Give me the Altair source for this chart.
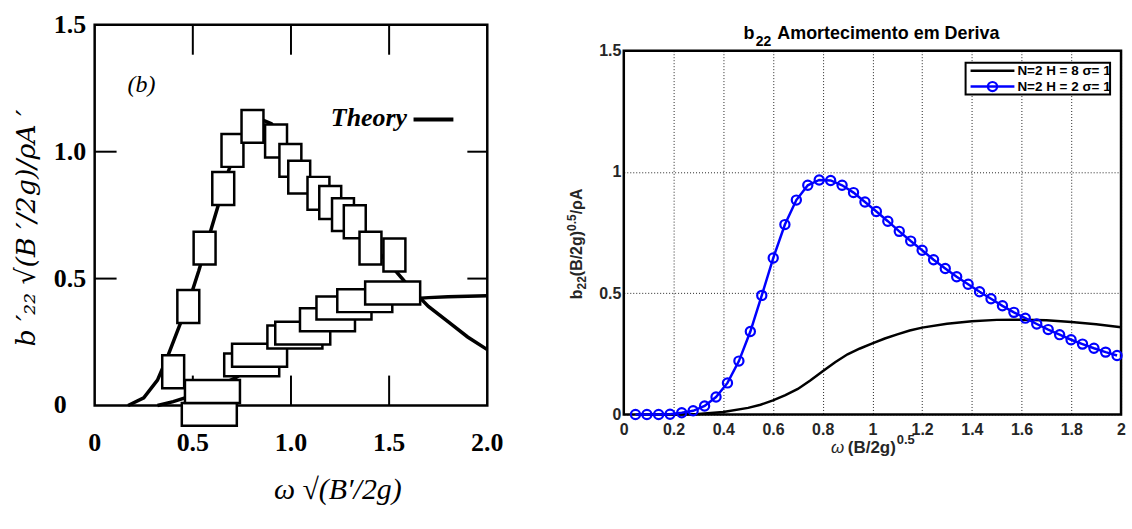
import altair as alt
import pandas as pd

SERIF = "Liberation Serif"
SANS = "Liberation Sans"

# ---------------- panel (b): measured sway damping vs. theory ----------------
theory_hi_x = [0.17, 0.25, 0.32, 0.37, 0.42, 0.48, 0.53, 0.58, 0.63, 0.68, 0.73, 0.78, 0.84, 0.90,
               0.96, 1.02, 1.10, 1.20, 1.30, 1.40, 1.50, 1.60, 1.65, 1.70, 1.80, 1.90, 2.00]
theory_hi_y = [0.00, 0.03, 0.10, 0.19, 0.29, 0.41, 0.53, 0.66, 0.79, 0.92, 1.03, 1.10, 1.13, 1.11,
               1.05, 0.97, 0.88, 0.80, 0.72, 0.64, 0.56, 0.47, 0.43, 0.39, 0.33, 0.27, 0.22]
theory_lo_x = [0.32, 0.40, 0.48, 0.56, 0.64, 0.72, 0.80, 0.88, 0.96, 1.04, 1.12, 1.20, 1.30, 1.40,
               1.50, 1.60, 1.70, 1.80, 1.90, 2.00]
theory_lo_y = [0.00, 0.015, 0.035, 0.055, 0.08, 0.11, 0.15, 0.20, 0.245, 0.285, 0.32, 0.345, 0.37,
               0.39, 0.405, 0.42, 0.425, 0.428, 0.43, 0.432]
exp_hi_x = [0.400, 0.477, 0.560, 0.655, 0.702, 0.804, 0.924, 0.997, 1.042, 1.140, 1.200, 1.265,
            1.325, 1.405, 1.527]
exp_hi_y = [0.133, 0.390, 0.620, 0.855, 1.005, 1.100, 1.042, 0.966, 0.900, 0.836, 0.800, 0.752,
            0.724, 0.620, 0.593]
exp_lo_x = [0.584, 0.600, 0.800, 0.840, 1.020, 1.060, 1.186, 1.270, 1.376, 1.518]
exp_lo_y = [-0.035, 0.055, 0.160, 0.198, 0.270, 0.285, 0.338, 0.384, 0.413, 0.443]
b_xticks = [0, 0.5, 1.0, 1.5, 2.0]
b_xlabels = ["0", "0.5", "1.0", "1.5", "2.0"]
b_yticks = [0, 0.5, 1.0, 1.5]
b_ylabels = ["0", "0.5", "1.0", "1.5"]
b_inner_x = [0.5, 1.0, 1.5]
b_inner_y = [0.5, 1.0]
b_xtitle = "\u03c9 \u221a(B\u2032/2g)"
b_ytitle = "b \u2032\u2082\u2082  \u221a(B \u2032/2g)/\u03c1A \u2032"

# ---------------- panel: b22 Amortecimento em Deriva ----------------
h8_x = [0.05, 0.20, 0.30, 0.40, 0.50, 0.55, 0.60, 0.65, 0.70, 0.75, 0.80, 0.85, 0.90, 0.95, 1.00,
        1.05, 1.10, 1.15, 1.20, 1.30, 1.40, 1.50, 1.60, 1.70, 1.80, 1.90, 2.00]
h8_y = [0.0, 0.0, 0.002, 0.01, 0.027, 0.04, 0.058, 0.08, 0.105, 0.14, 0.178, 0.215, 0.248, 0.272,
        0.293, 0.313, 0.33, 0.346, 0.358, 0.374, 0.384, 0.39, 0.391, 0.388, 0.381, 0.372, 0.36]
h2_x = [0.047, 0.093, 0.140, 0.186, 0.233, 0.279, 0.325, 0.371, 0.417, 0.463, 0.509, 0.555, 0.601,
        0.648, 0.694, 0.740, 0.786, 0.832, 0.878, 0.924, 0.970, 1.016, 1.062, 1.108, 1.154, 1.200,
        1.246, 1.293, 1.339, 1.385, 1.431, 1.477, 1.523, 1.569, 1.615, 1.661, 1.707, 1.753, 1.799,
        1.845, 1.891, 1.938, 1.984]
h2_y = [0.0, 0.0, 0.0, 0.001, 0.007, 0.015, 0.035, 0.072, 0.13, 0.22, 0.342, 0.491, 0.645, 0.783,
        0.884, 0.945, 0.967, 0.965, 0.945, 0.915, 0.876, 0.837, 0.797, 0.755, 0.715, 0.677, 0.638,
        0.602, 0.568, 0.537, 0.506, 0.477, 0.448, 0.421, 0.397, 0.373, 0.35, 0.329, 0.308, 0.29,
        0.273, 0.257, 0.243]
d_xticks = [0, 0.2, 0.4, 0.6, 0.8, 1, 1.2, 1.4, 1.6, 1.8, 2]
d_yticks = [0, 0.5, 1, 1.5]
legend_labels = ["N=2 H = 8 \u03c3= 1", "N=2 H = 2 \u03c3= 1"]
d_title = ["b", "22", "Amortecimento em Deriva"]
d_xtitle = ["\u03c9", "(B/2g)", "0.5"]
d_ytitle = ["b", "22", "(B/2g)", "0.5", "/\u03c1A"]

W1, H1 = 394, 382
W2, H2 = 499, 365
BLUE = "#0000ff"
INK = "#262626"


def one(text=""):
    return pd.DataFrame({"t": [text]})


def label(text, x, y, size, weight="bold", style="normal", align="left",
          baseline="alphabetic", angle=0, font=SANS, color="black"):
    return alt.Chart(one(text)).mark_text(
        font=font, fontSize=size, fontWeight=weight, fontStyle=style, align=align,
        baseline=baseline, angle=angle, color=color,
    ).encode(text="t:N", x=alt.value(x), y=alt.value(y))


# ---------------- left panel (tick labels and titles drawn as text marks) ----------------
xb = alt.Scale(domain=[0, 2], nice=False, zero=False)
yb = alt.Scale(domain=[0, 1.5], nice=False, zero=False)
XB = alt.X("x:Q", scale=xb, axis=None)
YB = alt.Y("y:Q", scale=yb, axis=None)

line_hi = alt.Chart(pd.DataFrame({"x": theory_hi_x, "y": theory_hi_y})).mark_line(
    color="black", strokeWidth=3.5
).encode(x=XB, y=YB)
line_lo = alt.Chart(pd.DataFrame({"x": theory_lo_x, "y": theory_lo_y})).mark_line(
    color="black", strokeWidth=3.5
).encode(x=XB, y=YB)

# inward tick marks on all four sides
tick_style = dict(color="black", opacity=1, thickness=2)
top_ticks = alt.Chart(pd.DataFrame({"x": b_inner_x})).mark_tick(
    orient="vertical", size=30, **tick_style
).encode(x=XB, y=alt.value(15))
bottom_ticks = alt.Chart(pd.DataFrame({"x": b_inner_x})).mark_tick(
    orient="vertical", size=30, **tick_style
).encode(x=XB, y=alt.value(H1 - 15))
left_ticks = alt.Chart(pd.DataFrame({"y": b_inner_y})).mark_tick(
    orient="horizontal", size=22, **tick_style
).encode(y=YB, x=alt.value(11))
right_ticks = alt.Chart(pd.DataFrame({"y": b_inner_y})).mark_tick(
    orient="horizontal", size=20, **tick_style
).encode(y=YB, x=alt.value(W1 - 10))

box_tall = "M-1,-1.5L1,-1.5L1,1.5L-1,1.5Z"
box_wide = "M-2.4,-1L2.4,-1L2.4,1L-2.4,1Z"
pts_lo = alt.Chart(pd.DataFrame({"x": exp_lo_x, "y": exp_lo_y})).mark_point(
    shape=box_wide, size=529, filled=True, fill="white", stroke="black", strokeWidth=2.5, opacity=1
).encode(x=XB, y=YB)
pts_hi = alt.Chart(pd.DataFrame({"x": exp_hi_x, "y": exp_hi_y})).mark_point(
    shape=box_tall, size=484, filled=True, fill="white", stroke="black", strokeWidth=2.5, opacity=1
).encode(x=XB, y=YB)

b_xlab = alt.Chart(pd.DataFrame({"x": b_xticks, "t": b_xlabels})).mark_text(
    font=SERIF, fontSize=26, fontWeight="bold", align="center", baseline="top", color="black"
).encode(x=XB, y=alt.value(H1 + 25), text="t:N")
b_ylab = alt.Chart(pd.DataFrame({"y": b_yticks, "t": b_ylabels})).mark_text(
    font=SERIF, fontSize=26, fontWeight="bold", align="left", baseline="middle", color="black"
).encode(y=YB, x=alt.value(-41), text="t:N")
b_xtitle_mark = label(b_xtitle, 244, H1 + 85, 30, weight="normal", style="italic",
                      align="center", baseline="middle", font=SERIF)
b_ytitle_mark = label(b_ytitle, -68, 204, 27, weight="normal", style="italic",
                      align="center", baseline="middle", angle=270, font="DejaVu Serif")

panel_tag = label("(b)", 47, 60, 24, weight="normal", style="italic", align="center",
                  baseline="middle", font=SERIF)
theory_txt = label("Theory", 237, 94, 26, weight="bold", style="italic", align="left",
                   baseline="middle", font=SERIF)
theory_key = alt.Chart(one()).mark_rule(color="black", strokeWidth=4).encode(
    x=alt.value(320), x2=alt.value(360), y=alt.value(95)
)

left = alt.layer(
    line_hi, line_lo, top_ticks, bottom_ticks, left_ticks, right_ticks,
    pts_lo, pts_hi, b_xlab, b_ylab, b_xtitle_mark, b_ytitle_mark,
    panel_tag, theory_txt, theory_key,
).properties(width=W1, height=H1)

# ---------------- right panel ----------------
xd = alt.Scale(domain=[0, 2], nice=False, zero=False)
yd = alt.Scale(domain=[0, 1.5], nice=False, zero=False)
grid_style = dict(grid=True, gridColor="black", gridDash=[1, 2], gridWidth=1, gridOpacity=0.85)
d_xaxis = alt.Axis(
    values=d_xticks, labelExpr="'' + datum.value", labelFont=SANS, labelFontSize=16,
    labelFontWeight="bold", labelColor=INK, labelPadding=7, labelFlush=False,
    labelOverlap=False, ticks=False, tickSize=0, domain=False, title=" ",
    **grid_style,
)
d_yaxis = alt.Axis(
    values=d_yticks, labelExpr="'' + datum.value", labelFont=SANS, labelFontSize=16,
    labelFontWeight="bold", labelColor=INK, labelPadding=3, labelFlush=False,
    labelOverlap=False, ticks=False, tickSize=0, domain=False, title=" ",
    **grid_style,
)
XD = alt.X("x:Q", scale=xd, axis=d_xaxis)
YD = alt.Y("y:Q", scale=yd, axis=d_yaxis)

h8_line = alt.Chart(pd.DataFrame({"x": h8_x, "y": h8_y})).mark_line(
    color="black", strokeWidth=2.5
).encode(x=XD, y=YD)
h2_df = pd.DataFrame({"x": h2_x, "y": h2_y})
h2_line = alt.Chart(h2_df).mark_line(color=BLUE, strokeWidth=2.5).encode(x=XD, y=YD)
h2_pts = alt.Chart(h2_df).mark_point(
    shape="circle", filled=False, color=BLUE, size=85, strokeWidth=2.2, opacity=1
).encode(x=XD, y=YD)

# legend box in the upper-right corner
leg_box = alt.Chart(one()).mark_rect(fill="white", stroke="black", strokeWidth=2).encode(
    x=alt.value(343), x2=alt.value(488), y=alt.value(12), y2=alt.value(44)
)
leg_k1 = alt.Chart(one()).mark_rule(color="black", strokeWidth=2.5).encode(
    x=alt.value(348), x2=alt.value(392), y=alt.value(20)
)
leg_k2 = alt.Chart(one()).mark_rule(color=BLUE, strokeWidth=2.5).encode(
    x=alt.value(348), x2=alt.value(392), y=alt.value(36)
)
leg_pt = alt.Chart(one()).mark_point(
    shape="circle", filled=False, color=BLUE, size=85, strokeWidth=2.2, opacity=1
).encode(x=alt.value(370), y=alt.value(36))
leg_t1 = label(legend_labels[0], 395, 20, 13.5, baseline="middle")
leg_t2 = label(legend_labels[1], 395, 36, 13.5, baseline="middle")

# title and axis titles with sub/superscripts, built from text pieces
t_b = label(d_title[0], 131, -11.7, 18, align="right")
t_sub = label(d_title[1], 132.5, -5, 14)
t_rest = label(d_title[2], 154, -11.7, 18)

xt_w = label(d_xtitle[0], 208, H2 + 38.3, 17, weight="normal", style="italic", color=INK)
xt_main = label(d_xtitle[1], 273, H2 + 38.3, 17, align="right", color=INK)
xt_sup = label(d_xtitle[2], 274, H2 + 30, 13, color=INK)

yt_b = label(d_ytitle[0], -42, 239.5, 16, align="right", angle=270, color=INK)
yt_sub = label(d_ytitle[1], -37.5, 239.5, 12, angle=270, color=INK)
yt_main = label(d_ytitle[2], -42, 180.9, 16, align="right", angle=270, color=INK)
yt_sup = label(d_ytitle[3], -47.5, 180.9, 12, angle=270, color=INK)
yt_rest = label(d_ytitle[4], -42, 164.2, 16, angle=270, color=INK)

right = alt.layer(
    h8_line, h2_line, h2_pts,
    leg_box, leg_k1, leg_k2, leg_pt, leg_t1, leg_t2,
    t_b, t_sub, t_rest, xt_w, xt_main, xt_sup, yt_b, yt_sub, yt_main, yt_sup, yt_rest,
).properties(width=W2, height=H2)

spacer = alt.Chart(one()).mark_point(opacity=0).encode(
    x=alt.value(0), y=alt.value(0)
).properties(width=W2, height=26, view=alt.ViewBackground(stroke="transparent"))

right_col = alt.vconcat(spacer, right, spacing=0, bounds="flush")

chart = alt.hconcat(left, right_col, spacing=137, bounds="flush").properties(
    padding={"left": 11, "top": 9, "right": 4, "bottom": 4},
    background="white",
).configure_view(stroke="black", strokeWidth=2.5)

chart.save("out.html", embed_options={"renderer": "svg", "actions": False})
